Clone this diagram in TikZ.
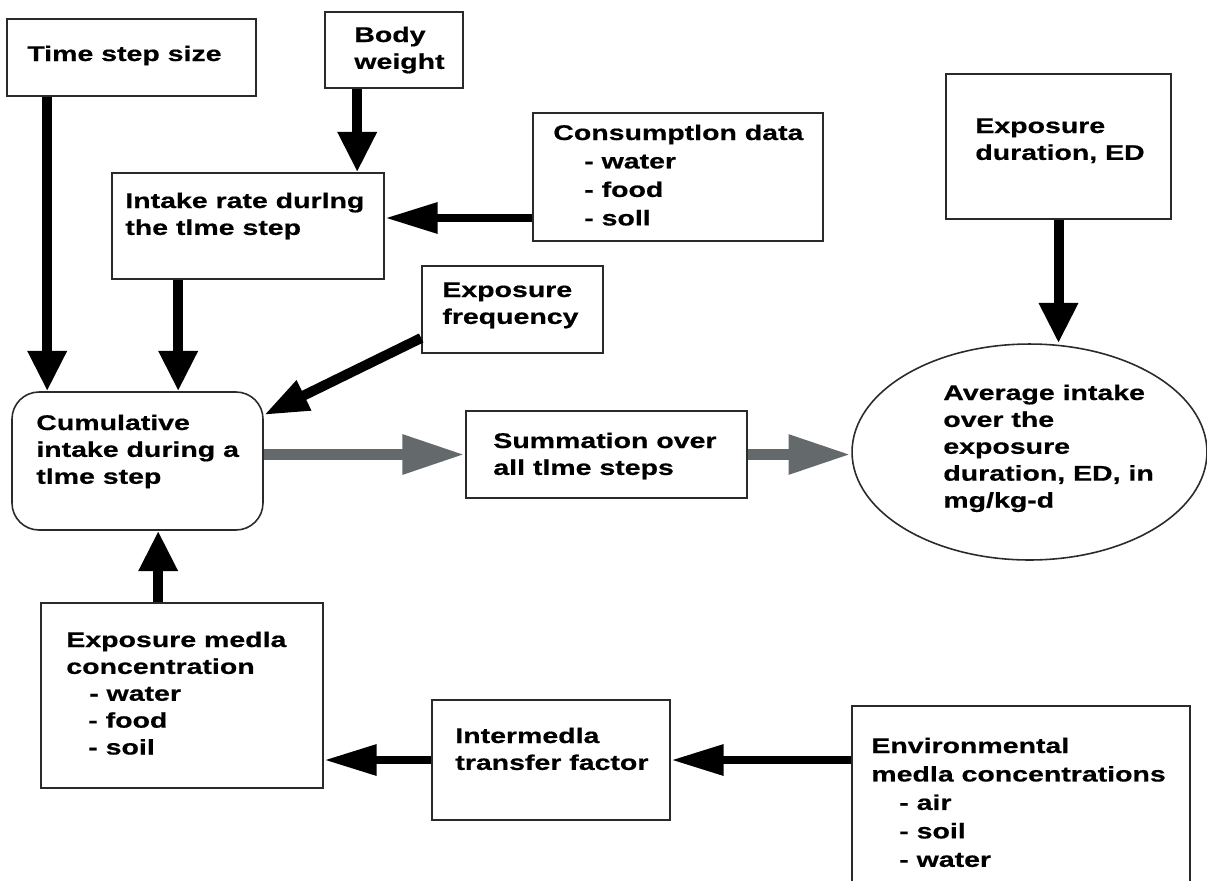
\documentclass[tikz,border=0pt]{standalone}
\usepackage{fontspec}
\usepackage{tikz}
\usetikzlibrary{arrows.meta,fit,shapes.geometric}
\newfontfamily\boxfont{Liberation Sans}[FakeStretch=1.34,FakeBold=0.6]
\newcommand{\boxlines}[1]{\begin{tabular}[t]{@{}l@{}}#1\end{tabular}}
\definecolor{flowgray}{HTML}{646A6C}
\definecolor{edge}{HTML}{2A2A2A}

\begin{document}
\begin{tikzpicture}[x=0.02cm, y=-0.02cm,
  box/.style={draw=edge, line width=0.9pt, inner sep=0pt},
  txt/.style={anchor=base west, inner sep=0pt, font=\boxfont\bfseries\fontsize{12.1}{15.3}\selectfont},
  wide/.style={txt, font=\boxfont\bfseries\fontsize{12.1}{16.2}\selectfont},
  varrow/.style={line width=5.7pt, -{Triangle[length=23pt, width=21pt]}},
  harrow/.style={line width=5.1pt, -{Triangle[length=30pt, width=16.5pt]}},
  darrow/.style={line width=5.7pt, -{Triangle[length=25.5pt, width=17.5pt]}},
  garrow/.style={flowgray, line width=6.8pt, -{Triangle[length=35.7pt, width=21pt]}}]
  \useasboundingbox (0,0) rectangle (1207,880);

  % boxes
  \node[box, fit={(7,19) (256,96)}] (tstep) {};
  \node[box, fit={(325,12) (463,88)}] (body) {};
  \node[box, fit={(112,173) (384,279)}] (intake) {};
  \node[box, fit={(533,113) (823,241)}] (cons) {};
  \node[box, fit={(422,266) (603,353)}] (freq) {};
  \node[box, fit={(946,74) (1171,219)}] (ed) {};
  \node[box, rounded corners=0.54cm, fit={(12,392) (263,530)}] (cumul) {};
  \node[box, fit={(466,411) (747,498)}] (sum) {};
  \node[box, ellipse, minimum width=7.1cm, minimum height=4.32cm] (avg) at (1029.5,452) {};
  \node[box, fit={(41,603) (323,788)}] (expo) {};
  \node[box, fit={(432,700) (670,820)}] (inter) {};
  \node[box, fit={(852,706) (1190,900)}] (env) {};

  % texts
  \node[txt] (tstep-t) at (27,61) {Time step size};
  \node[txt] (body-t) at (354,42) {\boxlines{Body\\weight}};
  \node[txt] (intake-t) at (125,208) {\boxlines{Intake rate durlng\\the tlme step}};
  \node[wide] (cons-t) at (553,140) {\boxlines{Consumptlon data\\\hspace*{17.6pt}- water\\\hspace*{17.6pt}- food\\\hspace*{17.6pt}- soll}};
  \node[txt] (freq-t) at (442,297) {\boxlines{Exposure\\frequency}};
  \node[txt] (ed-t) at (975,133) {\boxlines{Exposure\\duration, ED}};
  \node[txt] (cumul-t) at (36,430) {\boxlines{Cumulative\\intake during a\\tlme step}};
  \node[txt] (sum-t) at (493,448) {\boxlines{Summation over\\all tlme steps}};
  \node[txt] (avg-t) at (943,400) {\boxlines{Average intake\\over the\\exposure\\duration, ED, in\\mg/kg-d}};
  \node[txt] (expo-t) at (66,647) {\boxlines{Exposure medla\\concentration\\\hspace*{13pt}- water\\\hspace*{12.5pt}- food\\\hspace*{12.5pt}- soil}};
  \node[txt] (inter-t) at (455,743) {\boxlines{Intermedla\\transfer factor}};
  \node[wide] (env-t) at (871,753) {\boxlines{Environmental\\medla concentrations\\\hspace*{15.9pt}- air\\\hspace*{15.9pt}- soil\\\hspace*{15.9pt}- water}};

  % arrows
  \draw[varrow] ([xshift=0.82cm]tstep.south west) -- ([xshift=0.82cm]tstep.south west |- cumul.north);
  \draw[varrow] ([xshift=0.66cm]body.south west) -- ([xshift=0.66cm]body.south west |- intake.north);
  \draw[harrow] ([yshift=-0.82cm]cons.west) -- ([yshift=-0.82cm]cons.west -| intake.east);
  \draw[varrow] ([xshift=1.34cm]intake.south west) -- ([xshift=1.34cm]intake.south west |- cumul.north);
  \draw[darrow] ([yshift=-0.57cm]freq.west) -- (cumul.20);
  \draw[garrow] (cumul.east |- sum.west) -- (sum.west);
  \draw[garrow] (sum.east) -- (sum.east -| avg.west);
  \draw[varrow] (ed.south) -- (ed.south |- avg.north);
  \draw[varrow] ([xshift=2.36cm]expo.north west) -- ([xshift=2.36cm]expo.north west |- cumul.south);
  \draw[harrow] (inter.west) -- (inter.west -| expo.east);
  \draw[harrow] (inter.east -| env.west) -- (inter.east);
\end{tikzpicture}
\end{document}
